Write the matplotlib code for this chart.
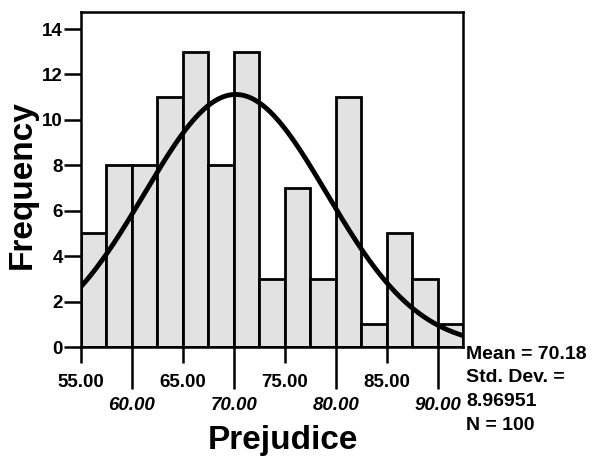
import numpy as np
import matplotlib
matplotlib.use("Agg")
import matplotlib.pyplot as plt
from matplotlib.ticker import FixedLocator, FixedFormatter

plt.rcParams['font.family'] = ['Liberation Sans', 'DejaVu Sans']

bin_edges = [55.0, 57.5, 60.0, 62.5, 65.0, 67.5, 70.0, 72.5, 75.0, 77.5, 80.0, 82.5, 85.0, 87.5, 90.0, 92.5]
counts = [5, 8, 8, 11, 13, 8, 13, 3, 7, 3, 11, 1, 5, 3, 1]
mean = 70.18
std = 8.96951
n = 100
row1_ticks = [55, 65, 75, 85]
row2_ticks = [60, 70, 80, 90]
y_ticks = [0, 2, 4, 6, 8, 10, 12, 14]

fig = plt.figure(figsize=(5.96, 4.59), dpi=100)
ax = fig.add_axes([81/596, 1-347/459, (463-81)/596, (347-12)/459])

lefts = np.array(bin_edges[:-1])
widths = np.diff(bin_edges)
ax.bar(lefts, counts, width=widths, align='edge', facecolor='#e2e2e2',
       edgecolor='black', linewidth=2.0, zorder=2)

bw = widths[0]
xs = np.linspace(bin_edges[0], bin_edges[-1], 400)
ys = n * bw * np.exp(-0.5 * ((xs - mean) / std) ** 2) / (std * np.sqrt(2 * np.pi))
ax.plot(xs, ys, color='black', linewidth=3.5, zorder=3, solid_capstyle='round')

ax.set_xlim(bin_edges[0], bin_edges[-1])
ax.set_ylim(0, 14.75)

for s in ax.spines.values():
    s.set_linewidth(1.8)

ax.xaxis.set_major_locator(FixedLocator(row2_ticks))
ax.xaxis.set_major_formatter(FixedFormatter([f"{v:.2f}" for v in row2_ticks]))
ax.xaxis.set_minor_locator(FixedLocator(row1_ticks))
ax.xaxis.set_minor_formatter(FixedFormatter([f"{v:.2f}" for v in row1_ticks]))
ax.tick_params(axis='x', which='major', length=30, width=1.8, pad=6, labelsize=13.5)
ax.tick_params(axis='x', which='minor', length=11.5, width=1.8, pad=8, labelsize=13.5)
for lab in ax.get_xticklabels(which='both'):
    lab.set_fontweight('bold')
for lab in ax.get_xticklabels(which='major'):
    lab.set_fontstyle('italic')

ax.set_yticks(y_ticks)
ax.set_yticklabels([str(v) for v in y_ticks], fontsize=13.5, fontweight='bold')
ax.tick_params(axis='y', length=12, width=1.8, pad=1)

fig.text(22/596, 1-185/459, 'Frequency', fontsize=24, fontweight='bold',
         rotation=90, ha='center', va='center')
fig.text(283/596, 1-441/459, 'Prejudice', fontsize=24, fontweight='bold',
         ha='center', va='center')

fig.text(466/596, 1-346/459, f"Mean = {mean:.2f}\nStd. Dev. =\n{std}\nN = {n}",
         fontsize=14, fontweight='bold', va='top', ha='left', linespacing=1.5)

fig.savefig('out.png', dpi=100)
